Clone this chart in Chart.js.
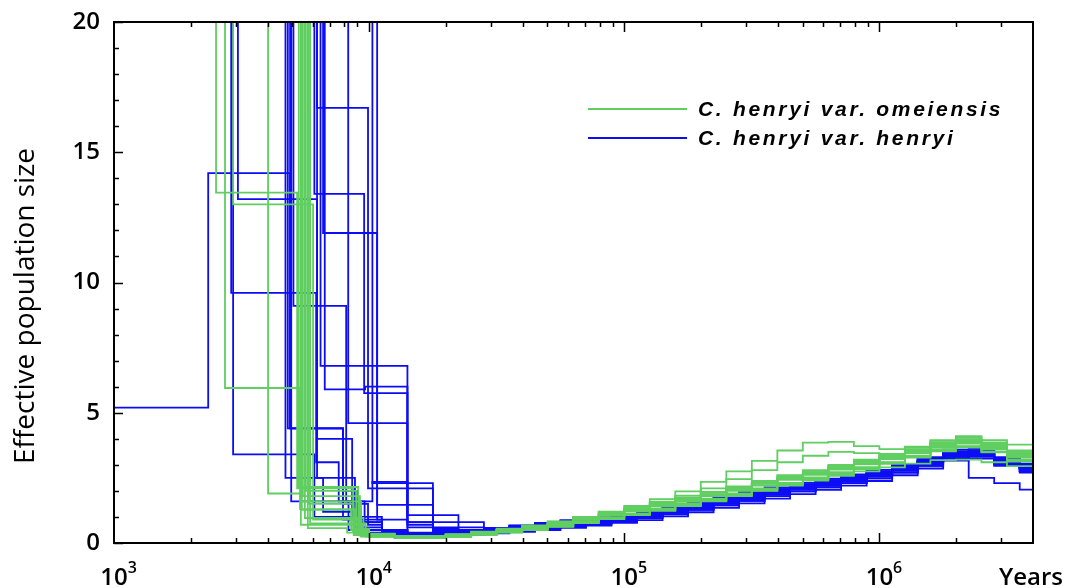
<!DOCTYPE html>
<html>
<head>
<meta charset="utf-8">
<title>PSMC effective population size</title>
<script src="https://cdn.jsdelivr.net/npm/chart.js@4.4.0/dist/chart.umd.min.js"></script>
<style>
  html, body { margin: 0; padding: 0; background: #fff; }
</style>
</head>
<body>
<canvas id="psmcChart" width="1066" height="588"></canvas>
<script>
// Shared time grids (years) for the later part of the curves
const greenTimes = [10000, 12590, 15850, 19950, 25120, 31620, 39810, 50120, 63100, 79430, 100000, 125900, 158500, 199500, 251200, 316200, 398100, 501200, 631000, 794300, 1000000, 1259000, 1585000, 1995000, 2512000, 3162000];
const blueTimes = [11220, 14130, 17780, 22390, 28180, 35480, 44670, 56230, 70790, 89130, 112200, 141300, 177800, 223900, 281800, 354800, 446700, 562300, 707900, 891300, 1122000, 1413000, 1778000, 2239000, 2818000, 3548000];
const endTime = 4000000;

// C. henryi var. omeiensis: recent steps [years, Ne] then Ne on greenTimes
const greenEarly = [
    [[1000, 60], [2512, 13.45], [5222, 2.1], [8650, 0.45]],
    [[1000, 60], [2723, 5.95], [5360, 1.3], [8800, 0.35]],
    [[1000, 60], [2930, 13.0], [6030, 0.9], [9060, 0.3]],
    [[1000, 60], [4017, 1.9], [5400, 1.6], [9300, 0.25]],
    [[1000, 60], [5300, 2.15], [9060, 0.35]],
    [[1000, 60], [5450, 1.27], [8500, 0.5]],
    [[1000, 60], [5600, 0.96], [9500, 0.3]],
    [[1000, 60], [5750, 0.57], [8200, 0.4]],
    [[1000, 60], [5500, 1.8], [9200, 0.28]],
    [[1000, 60], [5870, 0.75], [9700, 0.25]],
    [[1000, 60], [5650, 2.0], [8900, 0.55]],
    [[1000, 60], [5400, 0.7], [9400, 0.35]],
    [[1000, 60], [5800, 1.5], [8700, 0.3]]
];
const greenNe = [
    [0.35, 0.25, 0.24, 0.3, 0.4, 0.52, 0.66, 0.82, 1.0, 1.2, 1.42, 1.68, 1.98, 2.35, 2.75, 3.15, 3.55, 3.85, 3.88, 3.72, 3.6, 3.7, 3.95, 4.1, 3.95, 3.78],
    [0.3, 0.22, 0.22, 0.29, 0.39, 0.5, 0.63, 0.78, 0.95, 1.14, 1.35, 1.58, 1.82, 2.1, 2.45, 2.8, 3.1, 3.35, 3.5, 3.45, 3.4, 3.55, 3.82, 3.98, 3.8, 3.55],
    [0.28, 0.2, 0.2, 0.25, 0.32, 0.42, 0.52, 0.64, 0.78, 0.93, 1.08, 1.24, 1.42, 1.6, 1.8, 2.0, 2.2, 2.4, 2.58, 2.75, 2.9, 3.05, 3.18, 3.2, 3.1, 2.95],
    [0.32, 0.24, 0.23, 0.3, 0.38, 0.48, 0.6, 0.75, 0.92, 1.1, 1.28, 1.46, 1.66, 1.88, 2.08, 2.3, 2.52, 2.72, 2.92, 3.12, 3.32, 3.55, 3.8, 3.95, 3.75, 3.45],
    [0.25, 0.2, 0.2, 0.25, 0.32, 0.41, 0.51, 0.64, 0.79, 0.95, 1.1, 1.27, 1.46, 1.66, 1.86, 2.07, 2.28, 2.49, 2.69, 2.88, 3.08, 3.3, 3.55, 3.7, 3.52, 3.2],
    [0.3, 0.23, 0.24, 0.3, 0.4, 0.5, 0.62, 0.76, 0.9, 1.06, 1.24, 1.42, 1.64, 1.86, 2.08, 2.3, 2.5, 2.7, 2.9, 3.08, 3.28, 3.52, 3.78, 3.9, 3.7, 3.4],
    [0.24, 0.19, 0.2, 0.24, 0.31, 0.4, 0.5, 0.62, 0.76, 0.92, 1.07, 1.24, 1.42, 1.62, 1.82, 2.02, 2.24, 2.45, 2.64, 2.84, 3.04, 3.28, 3.52, 3.66, 3.48, 3.12],
    [0.33, 0.25, 0.25, 0.31, 0.39, 0.49, 0.61, 0.74, 0.9, 1.08, 1.26, 1.45, 1.65, 1.86, 2.06, 2.28, 2.5, 2.7, 2.88, 3.06, 3.26, 3.5, 3.74, 3.88, 3.68, 3.38],
    [0.29, 0.22, 0.22, 0.28, 0.37, 0.47, 0.59, 0.73, 0.89, 1.05, 1.22, 1.4, 1.58, 1.8, 2.0, 2.2, 2.42, 2.62, 2.82, 3.02, 3.22, 3.44, 3.68, 3.82, 3.6, 3.28],
    [0.33, 0.26, 0.27, 0.34, 0.44, 0.55, 0.68, 0.83, 1.0, 1.18, 1.36, 1.55, 1.75, 1.96, 2.17, 2.38, 2.6, 2.8, 3.0, 3.2, 3.42, 3.66, 3.92, 4.05, 3.86, 3.52],
    [0.36, 0.27, 0.27, 0.33, 0.42, 0.53, 0.66, 0.8, 0.97, 1.15, 1.33, 1.52, 1.72, 1.93, 2.14, 2.36, 2.57, 2.77, 2.96, 3.15, 3.36, 3.6, 3.86, 3.98, 3.78, 3.46],
    [0.26, 0.21, 0.21, 0.26, 0.33, 0.43, 0.54, 0.67, 0.82, 0.98, 1.14, 1.31, 1.5, 1.7, 1.9, 2.1, 2.31, 2.52, 2.72, 2.91, 3.1, 3.34, 3.6, 3.72, 3.5, 3.18],
    [0.3, 0.23, 0.23, 0.29, 0.38, 0.49, 0.61, 0.75, 0.91, 1.09, 1.27, 1.44, 1.63, 1.85, 2.05, 2.27, 2.47, 2.67, 2.86, 3.04, 3.24, 3.48, 3.72, 3.85, 3.64, 3.34]
];

// C. henryi var. henryi: recent steps [years, Ne] then Ne on blueTimes
const blueEarly = [
    [[1000, 5.2], [2340, 14.2], [4900, 4.4], [7900, 0.9]],
    [[1000, 60], [3060, 13.2], [6250, 2.5], [8800, 0.6]],
    [[1000, 60], [2880, 9.6], [6200, 3.1], [7600, 1.6], [9600, 0.8]],
    [[1000, 60], [2930, 3.4], [6100, 1.0], [9500, 0.4]],
    [[1000, 60], [4700, 2.5], [6600, 1.2], [9000, 0.5]],
    [[1000, 60], [4900, 4.4], [7900, 1.5], [9900, 0.7]],
    [[1000, 60], [5050, 9.1], [8130, 1.6], [10300, 2.35]],
    [[1000, 60], [6250, 16.7], [9900, 2.1]],
    [[1000, 60], [6100, 13.4], [9560, 5.75]],
    [[1000, 60], [6600, 11.9], [10750, 1.46]],
    [[1000, 60], [6450, 6.8]],
    [[1000, 60], [6700, 5.9], [9640, 6.0]],
    [[1000, 60], [8280, 4.6]],
    [[1000, 60], [6250, 4.0], [8580, 1.0]],
    [[1000, 60], [4800, 4.4], [7900, 2.0], [9000, 0.8]],
    [[1000, 60], [4950, 1.6], [8300, 0.5]],
    [[1000, 60], [10300, 2.3]],
    [[1000, 60], [10750, 0.9]]
];
const blueNe = [
    [0.5, 0.34, 0.37, 0.43, 0.51, 0.6, 0.69, 0.78, 0.88, 0.99, 1.12, 1.27, 1.45, 1.63, 1.81, 1.99, 2.17, 2.33, 2.49, 2.67, 2.9, 3.16, 3.44, 3.5, 3.2, 2.95],
    [0.4, 0.3, 0.3, 0.34, 0.4, 0.47, 0.55, 0.63, 0.73, 0.84, 0.96, 1.1, 1.27, 1.45, 1.62, 1.8, 1.98, 2.14, 2.3, 2.48, 2.7, 2.96, 3.24, 3.32, 3.02, 2.76],
    [0.45, 0.38, 0.42, 0.49, 0.58, 0.67, 0.77, 0.87, 0.98, 1.1, 1.24, 1.4, 1.58, 1.76, 1.95, 2.13, 2.31, 2.47, 2.63, 2.81, 3.03, 3.3, 3.58, 3.62, 3.3, 3.05],
    [0.3, 0.25, 0.27, 0.31, 0.37, 0.43, 0.5, 0.58, 0.67, 0.77, 0.88, 1.02, 1.18, 1.35, 1.52, 1.7, 1.88, 2.04, 2.2, 2.38, 2.6, 2.86, 3.16, 3.24, 2.96, 2.7],
    [0.35, 0.31, 0.35, 0.41, 0.49, 0.57, 0.66, 0.75, 0.85, 0.96, 1.09, 1.24, 1.41, 1.59, 1.77, 1.95, 2.13, 2.29, 2.45, 2.63, 2.85, 3.11, 3.45, 2.5, 2.3, 2.05],
    [0.42, 0.34, 0.37, 0.43, 0.51, 0.59, 0.68, 0.77, 0.87, 0.98, 1.11, 1.26, 1.43, 1.61, 1.79, 1.97, 2.15, 2.31, 2.47, 2.65, 2.87, 3.13, 3.41, 3.46, 3.16, 2.9],
    [2.35, 0.4, 0.38, 0.44, 0.52, 0.6, 0.69, 0.78, 0.88, 0.99, 1.12, 1.27, 1.44, 1.62, 1.8, 1.98, 2.16, 2.32, 2.48, 2.66, 2.88, 3.14, 3.42, 3.47, 3.17, 2.92],
    [2.1, 2.1, 0.45, 0.44, 0.5, 0.58, 0.66, 0.75, 0.85, 0.96, 1.08, 1.23, 1.4, 1.58, 1.76, 1.94, 2.12, 2.28, 2.44, 2.62, 2.84, 3.1, 3.38, 3.43, 3.13, 2.88],
    [5.75, 0.8, 0.5, 0.5, 0.58, 0.67, 0.76, 0.85, 0.96, 1.07, 1.2, 1.36, 1.53, 1.71, 1.89, 2.07, 2.25, 2.41, 2.57, 2.75, 2.97, 3.23, 3.52, 3.56, 3.26, 3.0],
    [1.46, 1.46, 0.55, 0.45, 0.51, 0.59, 0.67, 0.76, 0.86, 0.97, 1.1, 1.25, 1.42, 1.6, 1.78, 1.96, 2.14, 2.3, 2.46, 2.64, 2.86, 3.12, 3.4, 3.45, 3.15, 2.9],
    [6.8, 1.07, 1.07, 0.6, 0.57, 0.64, 0.73, 0.82, 0.92, 1.04, 1.17, 1.32, 1.49, 1.67, 1.85, 2.03, 2.21, 2.37, 2.53, 2.71, 2.93, 3.19, 3.47, 3.5, 3.18, 2.92],
    [6.0, 0.8, 0.8, 0.8, 0.5, 0.54, 0.61, 0.7, 0.8, 0.91, 1.03, 1.18, 1.35, 1.53, 1.71, 1.89, 2.07, 2.23, 2.39, 2.57, 2.79, 3.05, 3.33, 3.38, 3.08, 2.84],
    [4.6, 0.6, 0.42, 0.43, 0.5, 0.58, 0.67, 0.76, 0.86, 0.97, 1.1, 1.25, 1.42, 1.6, 1.78, 1.96, 2.14, 2.3, 2.46, 2.64, 2.86, 3.12, 3.4, 3.45, 3.15, 2.9],
    [0.5, 0.33, 0.33, 0.38, 0.45, 0.52, 0.6, 0.69, 0.78, 0.89, 1.01, 1.16, 1.33, 1.51, 1.69, 1.87, 2.05, 2.21, 2.37, 2.55, 2.77, 3.03, 3.31, 3.37, 3.07, 2.82],
    [0.38, 0.33, 0.37, 0.43, 0.5, 0.58, 0.67, 0.76, 0.86, 0.97, 1.1, 1.25, 1.42, 1.6, 1.78, 1.96, 2.14, 2.3, 2.46, 2.64, 2.86, 3.12, 3.4, 3.45, 3.15, 2.9],
    [0.33, 0.28, 0.3, 0.35, 0.42, 0.49, 0.57, 0.65, 0.75, 0.85, 0.97, 1.11, 1.27, 1.45, 1.62, 1.8, 1.98, 2.14, 2.3, 2.48, 2.7, 2.96, 3.26, 3.32, 3.02, 2.76],
    [2.3, 2.3, 0.6, 0.5, 0.58, 0.67, 0.77, 0.87, 0.97, 1.08, 1.21, 1.36, 1.53, 1.71, 1.89, 2.07, 2.25, 2.41, 2.57, 2.75, 2.97, 3.23, 3.5, 3.55, 3.25, 3.0],
    [0.9, 0.7, 0.5, 0.44, 0.5, 0.58, 0.66, 0.75, 0.85, 0.96, 1.08, 1.22, 1.39, 1.57, 1.75, 1.93, 2.11, 2.27, 2.43, 2.61, 2.83, 3.09, 3.37, 3.42, 3.12, 2.87]
];

const xTickValues = [1000, 10000, 100000, 1000000];
const yTickValues = [0, 5, 10, 15, 20];
const seriesNames = ["C. henryi var. omeiensis", "C. henryi var. henryi"];
const greenColor = "rgb(96, 206, 96)";
const blueColor = "rgb(12, 12, 245)";

// Turn one curve into {x, y} points, closing the last step at the right edge
function buildPoints(early, times, ne) {
    const pts = early.map(p => ({ x: p[0], y: p[1] }));
    times.forEach((t, i) => pts.push({ x: t, y: ne[i] }));
    pts.push({ x: endTime, y: ne[ne.length - 1] });
    return pts;
}

function makeDataset(label, color, points) {
    return {
        label: label,
        data: points,
        borderColor: color,
        borderWidth: 1.8,
        pointRadius: 0,
        stepped: true,
        fill: false
    };
}

const datasets = [];
greenNe.forEach((ne, i) => datasets.push(makeDataset(seriesNames[0], greenColor, buildPoints(greenEarly[i], greenTimes, ne))));
blueNe.forEach((ne, i) => datasets.push(makeDataset(seriesNames[1], blueColor, buildPoints(blueEarly[i], blueTimes, ne))));

const supDigits = { 3: "3", 4: "4", 5: "5", 6: "6" };

// Frame, inward ticks, tick labels, axis title and legend
const decorations = {
    id: "decorations",
    afterDatasetsDraw(chart) {
        const { ctx, chartArea: a, scales } = chart;
        const x = scales.x, y = scales.y;
        ctx.save();
        ctx.strokeStyle = "#000";
        ctx.fillStyle = "#000";

        ctx.lineWidth = 2;
        ctx.strokeRect(a.left, a.top, a.right - a.left, a.bottom - a.top);

        // y ticks on the left only
        ctx.lineWidth = 1.5;
        for (let v = 0; v <= 20; v++) {
            const py = Math.round(y.getPixelForValue(v)) + 0.5;
            const len = v % 5 === 0 ? 9 : 5;
            ctx.beginPath();
            ctx.moveTo(a.left, py);
            ctx.lineTo(a.left + len, py);
            ctx.stroke();
        }

        // x ticks on bottom and top
        for (let d = 3; d <= 6; d++) {
            for (let m = 1; m <= 9; m++) {
                const v = m * Math.pow(10, d);
                if (v >= x.max || v <= x.min) continue;
                const px = Math.round(x.getPixelForValue(v)) + 0.5;
                const len = m === 1 ? 10 : 5;
                ctx.beginPath();
                ctx.moveTo(px, a.bottom);
                ctx.lineTo(px, a.bottom - len);
                ctx.moveTo(px, a.top);
                ctx.lineTo(px, a.top + len);
                ctx.stroke();
            }
        }

        // y tick labels
        ctx.font = '600 24px "Open Sans"';
        ctx.textAlign = "right";
        ctx.textBaseline = "middle";
        yTickValues.forEach(v => ctx.fillText(String(v), a.left - 14, y.getPixelForValue(v)));

        // x tick labels 10^n
        xTickValues.forEach(v => {
            const px = x.getPixelForValue(v);
            const exp = Math.round(Math.log10(v));
            ctx.font = '600 24px "Open Sans"';
            ctx.textAlign = "center";
            ctx.textBaseline = "alphabetic";
            const w = ctx.measureText("10").width;
            ctx.fillText("10", px, 585);
            ctx.font = '600 16px "Open Sans"';
            ctx.textAlign = "left";
            ctx.fillText(supDigits[exp], px + w / 2, 573);
        });

        ctx.font = '600 24px "Open Sans"';
        ctx.textAlign = "right";
        ctx.fillText("Years", 1063, 585);

        // y axis title
        ctx.save();
        ctx.translate(26, 306);
        ctx.rotate(-Math.PI / 2);
        ctx.textAlign = "center";
        ctx.textBaseline = "middle";
        ctx.font = '28px "Open Sans"';
        ctx.fillText("Effective population size", 0, 0);
        ctx.restore();

        // legend
        const rows = [[greenColor, 109], [blueColor, 138]];
        rows.forEach((r, i) => {
            ctx.strokeStyle = r[0];
            ctx.lineWidth = 2;
            ctx.beginPath();
            ctx.moveTo(588, r[1]);
            ctx.lineTo(687, r[1]);
            ctx.stroke();
            ctx.fillStyle = "#000";
            ctx.font = 'italic bold 21px "Liberation Sans"';
            ctx.letterSpacing = "2.7px";
            ctx.textAlign = "left";
            ctx.textBaseline = "alphabetic";
            ctx.fillText(seriesNames[i], 698, r[1] + 7);
        });
        ctx.restore();
    }
};

new Chart(document.getElementById("psmcChart").getContext("2d"), {
    type: "line",
    data: { datasets: datasets },
    options: {
        responsive: false,
        animation: false,
        devicePixelRatio: 1,
        layout: { padding: { left: 114, top: 22, right: 33, bottom: 45 } },
        plugins: { legend: { display: false }, tooltip: { enabled: false } },
        scales: {
            x: { type: "logarithmic", min: 1000, max: 4000000, display: false },
            y: { type: "linear", min: 0, max: 20, display: false }
        }
    },
    plugins: [decorations]
});
</script>
</body>
</html>
